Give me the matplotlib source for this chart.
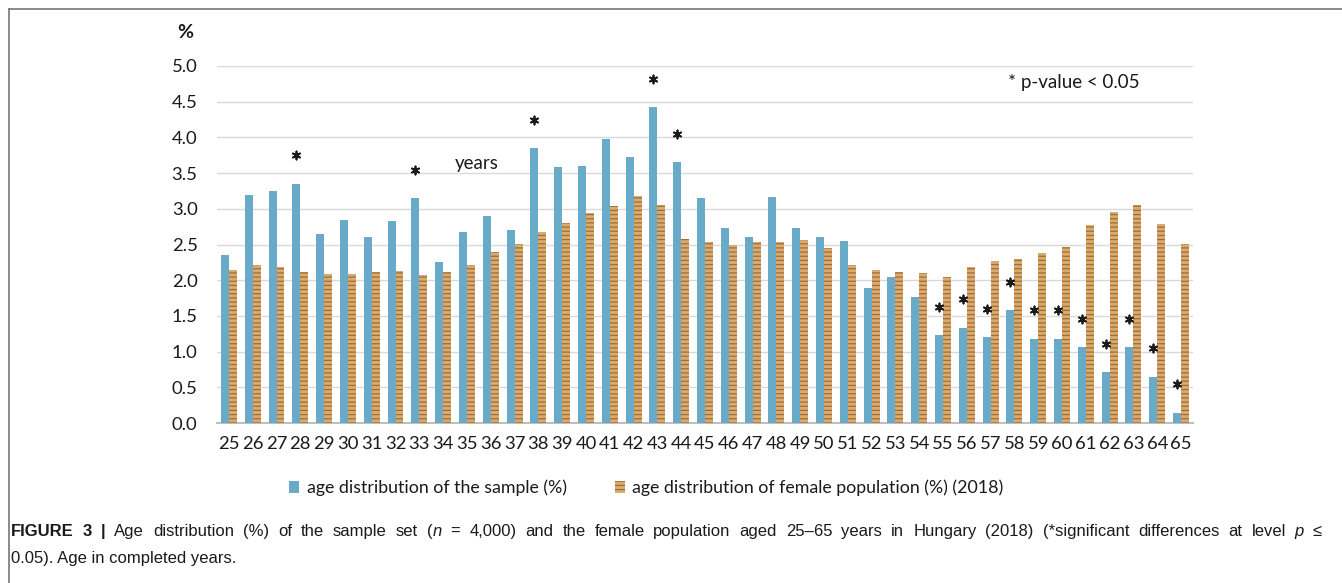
import numpy as np
import matplotlib
matplotlib.use('Agg')
import matplotlib.pyplot as plt
from matplotlib.lines import Line2D
from matplotlib.patches import Patch

# ------------------------------------------------------------------
# Data (%)
# ------------------------------------------------------------------
ages = list(range(25, 66))
sample_pct = [2.35, 3.20, 3.25, 3.35, 2.65, 2.85, 2.60, 2.83, 3.15, 2.25,
              2.67, 2.90, 2.70, 3.85, 3.58, 3.60, 3.98, 3.73, 4.42, 3.65,
              3.15, 2.73, 2.60, 3.17, 2.73, 2.60, 2.55, 1.89, 2.05, 1.76,
              1.23, 1.33, 1.20, 1.58, 1.18, 1.18, 1.06, 0.71, 1.06, 0.65,
              0.14]
female_pct = [2.15, 2.21, 2.19, 2.11, 2.09, 2.09, 2.12, 2.13, 2.08, 2.11,
              2.22, 2.40, 2.51, 2.68, 2.80, 2.94, 3.04, 3.18, 3.05, 2.58,
              2.54, 2.50, 2.53, 2.54, 2.56, 2.45, 2.22, 2.14, 2.12, 2.10,
              2.05, 2.18, 2.27, 2.30, 2.38, 2.46, 2.77, 2.96, 3.06, 2.79,
              2.51]
significant_ages = [28, 33, 38, 43, 44, 55, 56, 57, 58, 59, 60, 61, 62, 63, 64, 65]

sample_label = 'age distribution of the sample (%)'
female_label = 'age distribution of female population (%) (2018)'

# caption: words, each a list of (text, weight, style) runs
B, N, I = 'bold', 'normal', 'italic'
caption_line1 = [[('FIGURE', B, N)], [('3', B, N)], [('|', B, N)],
                 [('Age', N, N)], [('distribution', N, N)], [('(%)', N, N)],
                 [('of', N, N)], [('the', N, N)], [('sample', N, N)], [('set', N, N)],
                 [('(', N, N), ('n', N, I)], [('=', N, N)], [('4,000)', N, N)],
                 [('and', N, N)], [('the', N, N)], [('female', N, N)],
                 [('population', N, N)], [('aged', N, N)], [('25\u201365', N, N)],
                 [('years', N, N)], [('in', N, N)], [('Hungary', N, N)],
                 [('(2018)', N, N)], [('(*significant', N, N)], [('differences', N, N)],
                 [('at', N, N)], [('level', N, N)], [('p', N, I)], [('\u2264', N, N)]]
caption_line2 = '0.05). Age in completed years.'

# ------------------------------------------------------------------
# Styling
# ------------------------------------------------------------------
blue = '#69aac9'
tan = '#d9ab6f'
streak = '#a06d38'
ink = '#1a1a1a'
plt.rcParams['font.family'] = ['Lato', 'DejaVu Sans']
plt.rcParams['hatch.linewidth'] = 0.9

fig = plt.figure(figsize=(13.42, 5.83), dpi=100)
ax = fig.add_axes([0.1617, 0.2744, 0.7272, 0.6124])

x = np.arange(len(ages))
w = 0.335
ax.bar(x - w / 2, sample_pct, width=w, color=blue, linewidth=0, zorder=3)
ax.bar(x + w / 2, female_pct, width=w, color=tan, edgecolor=streak,
       linewidth=0, hatch='----', zorder=3)

# significance markers above the sample bars
sig_idx = [ages.index(a) for a in significant_ages]
ax.scatter(x[sig_idx] - w / 2, np.array(sample_pct)[sig_idx] + 0.40,
           marker=(6, 2, 0), s=34, linewidths=1.3, color=ink, zorder=4)

ax.text(10.4, 3.63, 'years', ha='center', va='center', fontsize=13.5, color=ink)
ax.text(35.5, 4.77, '* p-value < 0.05', ha='center', va='center', fontsize=13.5,
        color=ink)

ax.set_xlim(-0.5, len(ages) - 0.5)
ax.set_ylim(0, 5.0)
yt = np.arange(0, 5.01, 0.5)
ax.set_yticks(yt)
ax.set_yticklabels([f'{v:.1f}' for v in yt])
ax.set_xticks(x)
ax.set_xticklabels([str(a) for a in ages])
ax.tick_params(axis='both', length=0, labelsize=13.3, colors=ink)
ax.tick_params(axis='x', pad=9)
ax.tick_params(axis='y', pad=14)

ax.grid(axis='y', color='#d9d9d9', linewidth=1.0, zorder=0)
for s in ['top', 'right', 'left']:
    ax.spines[s].set_visible(False)
ax.spines['bottom'].set_color('#bfbfbf')
ax.spines['bottom'].set_linewidth(1.5)

fig.text(0.1378, 0.945, '%', fontsize=14, fontweight='bold', ha='center',
         va='center', color=ink)

handles = [Patch(facecolor=blue, linewidth=0),
           Patch(facecolor=tan, edgecolor=streak, linewidth=0, hatch='----')]
fig.legend(handles, [sample_label, female_label], loc='center',
           bbox_to_anchor=(0.4815, 0.163), ncol=2, frameon=False, fontsize=12.8,
           handlelength=0.6, handleheight=0.6, handletextpad=0.4,
           columnspacing=2.7, labelcolor=ink)

# frame around the figure panel
fig.add_artist(Line2D([0.0067, 0.0067], [0.0, 0.985], color='#777777', lw=1.2))
fig.add_artist(Line2D([0.0067, 1.0], [0.985, 0.985], color='#777777', lw=1.2))

# caption (first line justified between the margins, like the journal layout)
cap_font = ['Liberation Sans', 'DejaVu Sans']
cap_size = 12.0
W = fig.get_figwidth() * fig.dpi
H = fig.get_figheight() * fig.dpi
x_left, x_right = 11 / W, 1322 / W
base1, base2 = 1 - 536 / H, 1 - 563 / H
renderer = fig.canvas.get_renderer()

runs = []
word_widths = []
for word in caption_line1:
    ww = 0.0
    made = []
    for txt, wt, st in word:
        t = fig.text(0, base1, txt, fontsize=cap_size, fontweight=wt, fontstyle=st,
                     family=cap_font, va='baseline', ha='left', color=ink)
        tw = t.get_window_extent(renderer).width / W
        made.append((t, tw))
        ww += tw
    runs.append(made)
    word_widths.append(ww)

gap = (x_right - x_left - sum(word_widths)) / (len(caption_line1) - 1)
pos = x_left
for made, ww in zip(runs, word_widths):
    p = pos
    for t, tw in made:
        t.set_x(p)
        p += tw
    pos += ww + gap

fig.text(x_left, base2, caption_line2, fontsize=cap_size, family=cap_font,
         va='baseline', color=ink)

fig.savefig('out.png', dpi=100)
